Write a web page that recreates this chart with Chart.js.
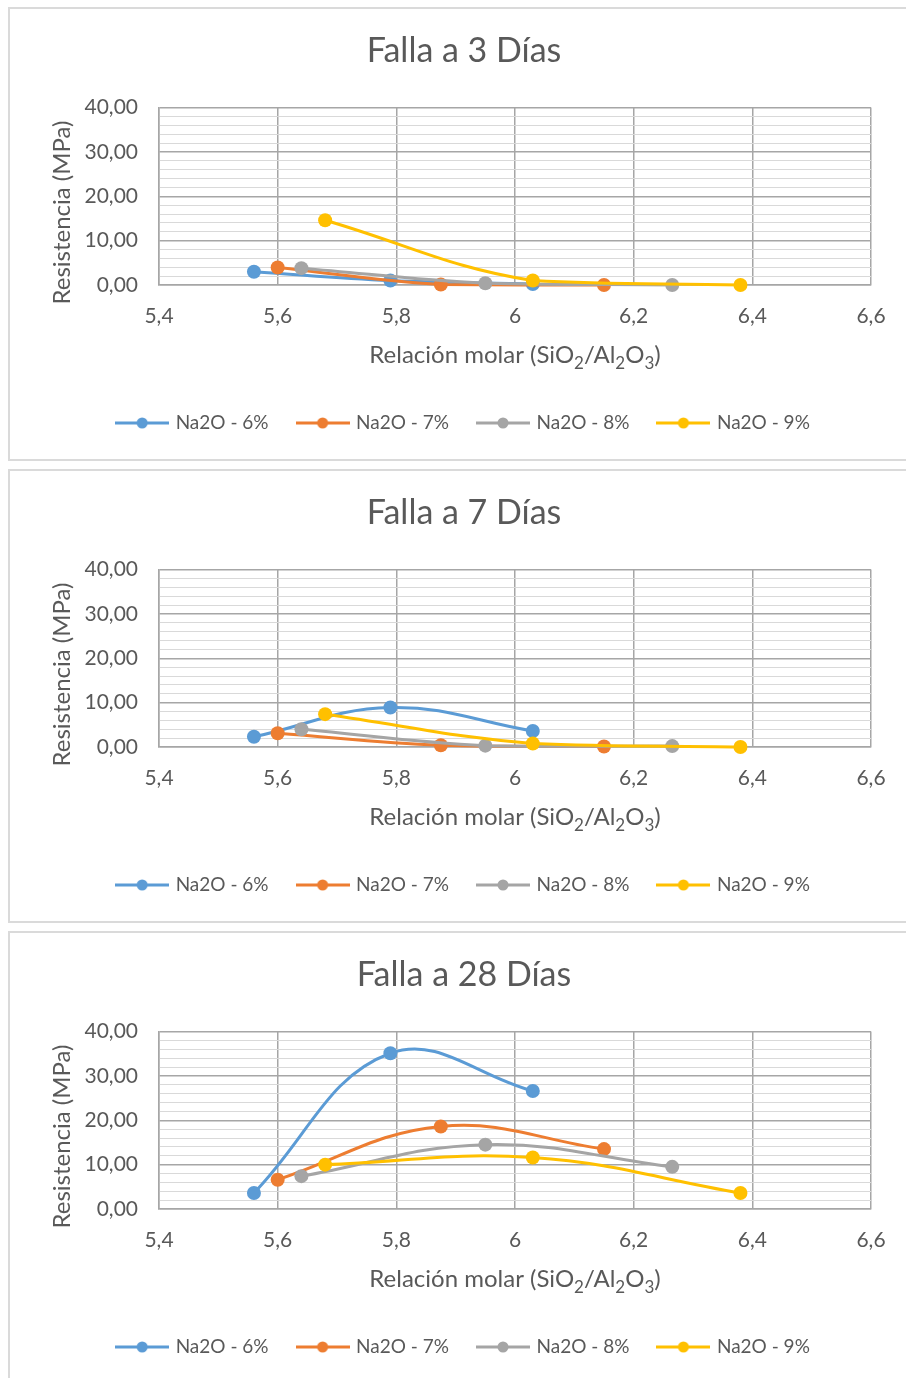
<!DOCTYPE html>
<html>
<head>
<meta charset="utf-8">
<script src="https://cdn.jsdelivr.net/npm/chart.js@4.4.1/dist/chart.umd.min.js"></script>
<style>
  html, body { margin: 0; padding: 0; background: #fff; width: 906px; height: 1378px; overflow: hidden; }
  .panel { position: absolute; left: 8px; width: 960px; height: 450px; border: 2px solid #dadada; background: #fff; }
  .panel canvas { position: absolute; left: 0; top: 0; }
</style>
</head>
<body>
<div class="panel" style="top:7px"><canvas id="chart3d" width="906" height="450"></canvas></div>
<div class="panel" style="top:469px"><canvas id="chart7d" width="906" height="450"></canvas></div>
<div class="panel" style="top:931px"><canvas id="chart28d" width="906" height="450"></canvas></div>
<script>
// Series names and colours
const seriesNames = ['Na2O - 6%', 'Na2O - 7%', 'Na2O - 8%', 'Na2O - 9%'];
const seriesColors = ['#5B9BD5', '#ED7D31', '#A5A5A5', '#FFC000'];

// Molar ratio SiO2/Al2O3 of each mix, per Na2O content
const ratioNa6 = [5.56, 5.79, 6.03];
const ratioNa7 = [5.60, 5.875, 6.15];
const ratioNa8 = [5.64, 5.95, 6.265];
const ratioNa9 = [5.68, 6.03, 6.38];

// Compressive strength (MPa) at 3 days
const res3dNa6 = [3.0, 1.0, 0.2];
const res3dNa7 = [3.95, 0.1, 0.0];
const res3dNa8 = [3.8, 0.4, 0.0];
const res3dNa9 = [14.6, 1.0, 0.0];

// Compressive strength (MPa) at 7 days
const res7dNa6 = [2.3, 8.9, 3.6];
const res7dNa7 = [3.1, 0.4, 0.1];
const res7dNa8 = [4.0, 0.3, 0.2];
const res7dNa9 = [7.4, 0.8, 0.0];

// Compressive strength (MPa) at 28 days
const res28dNa6 = [3.6, 35.1, 26.6];
const res28dNa7 = [6.6, 18.6, 13.5];
const res28dNa8 = [7.4, 14.5, 9.5];
const res28dNa9 = [10.0, 11.6, 3.6];

const chartTitles = ['Falla a 3 Días', 'Falla a 7 Días', 'Falla a 28 Días'];
const yAxisTitle = 'Resistencia (MPa)';
// x title pieces: [text, isSubscript]
const xAxisTitleParts = [['Relación molar (SiO', false], ['2', true], ['/Al', false], ['2', true], ['O', false], ['3', true], [')', false]];

const ratios = [ratioNa6, ratioNa7, ratioNa8, ratioNa9];
const textColor = '#595959';
const FONT = 'Lato';

// Line-with-dot swatch for the legend
function legendSwatch(color) {
  const c = document.createElement('canvas');
  c.width = 54; c.height = 14;
  const g = c.getContext('2d');
  g.strokeStyle = color; g.lineWidth = 3;
  g.beginPath(); g.moveTo(0, 7); g.lineTo(54, 7); g.stroke();
  g.fillStyle = color;
  g.beginPath(); g.arc(27, 7, 5.5, 0, Math.PI * 2); g.fill();
  return c;
}

// Axis titles (x title carries subscripts)
const axisTitlePlugin = {
  id: 'axisTitles',
  afterDraw(chart) {
    const { ctx, chartArea: a } = chart;
    ctx.save();
    ctx.fillStyle = textColor;
    const baseSize = 24, subSize = 17;
    let total = 0;
    xAxisTitleParts.forEach(([t, sub]) => {
      ctx.font = (sub ? subSize : baseSize) + 'px ' + FONT;
      total += ctx.measureText(t).width;
    });
    let x = (a.left + a.right) / 2 - total / 2;
    const baseline = a.bottom + 70 + 8;
    ctx.textBaseline = 'alphabetic';
    ctx.textAlign = 'left';
    xAxisTitleParts.forEach(([t, sub]) => {
      ctx.font = (sub ? subSize : baseSize) + 'px ' + FONT;
      ctx.fillText(t, x, sub ? baseline + 6 : baseline);
      x += ctx.measureText(t).width;
    });
    ctx.translate(52, a.top + 105);
    ctx.rotate(-Math.PI / 2);
    ctx.font = baseSize + 'px ' + FONT;
    ctx.textAlign = 'center';
    ctx.textBaseline = 'middle';
    ctx.fillText(yAxisTitle, 0, 0);
    ctx.restore();
  }
};

function makeChart(id, title, values) {
  const datasets = seriesNames.map((name, i) => ({
    label: name,
    data: ratios[i].map((x, j) => ({ x: x, y: values[i][j] })),
    borderColor: seriesColors[i],
    backgroundColor: seriesColors[i],
    borderWidth: 3,
    pointRadius: 7,
    pointHoverRadius: 7,
    pointBorderWidth: 0,
    tension: 0.4,
    fill: false,
    clip: false,
    order: 3 - i
  }));

  return new Chart(document.getElementById(id), {
    type: 'line',
    data: { datasets },
    options: {
      responsive: false,
      animation: false,
      events: [],
      layout: { padding: { left: 47, right: 45, top: 0, bottom: 16.5 } },
      plugins: {
        title: {
          display: true, text: title, color: textColor,
          font: { family: FONT, size: 34, weight: 'normal' },
          padding: { top: 21.6, bottom: 36.1 }
        },
        legend: {
          position: 'bottom',
          labels: {
            usePointStyle: true, pointStyleWidth: 48, boxHeight: 19, padding: 30,
            color: textColor, font: { family: FONT, size: 19 },
            generateLabels: (chart) => chart.data.datasets.map((ds, i) => ({
              text: ds.label, fillStyle: ds.borderColor, strokeStyle: ds.borderColor,
              lineWidth: 0, pointStyle: legendSwatch(ds.borderColor), hidden: false,
              datasetIndex: i, fontColor: textColor
            }))
          }
        },
        tooltip: { enabled: false }
      },
      scales: {
        x: {
          type: 'linear', min: 5.4, max: 6.6,
          afterFit: (s) => { s.height = 98.5; },
          ticks: {
            stepSize: 0.2, padding: 19, color: textColor, font: { family: FONT, size: 21 },
            callback: (v) => (Math.round(v * 10) / 10).toString().replace('.', ',')
          },
          grid: { color: '#a6a6a6', lineWidth: 1.5, drawTicks: false },
          border: { color: '#a6a6a6', width: 1.5 }
        },
        y: {
          min: 0, max: 40,
          afterFit: (s) => { s.width = 102; },
          ticks: {
            stepSize: 2, autoSkip: false, padding: 21, color: textColor, font: { family: FONT, size: 21 },
            callback: (v) => (v % 10 === 0 ? v.toFixed(2).replace('.', ',') : '')
          },
          grid: {
            color: (c) => (c.tick && c.tick.value % 10 === 0 ? '#a6a6a6' : '#d9d9d9'),
            lineWidth: (c) => (c.tick && c.tick.value % 10 === 0 ? 1.5 : 1),
            drawTicks: false
          },
          border: { color: '#a6a6a6', width: 1.5 }
        }
      }
    },
    plugins: [axisTitlePlugin]
  });
}

makeChart('chart3d', chartTitles[0], [res3dNa6, res3dNa7, res3dNa8, res3dNa9]);
makeChart('chart7d', chartTitles[1], [res7dNa6, res7dNa7, res7dNa8, res7dNa9]);
makeChart('chart28d', chartTitles[2], [res28dNa6, res28dNa7, res28dNa8, res28dNa9]);
</script>
</body>
</html>
